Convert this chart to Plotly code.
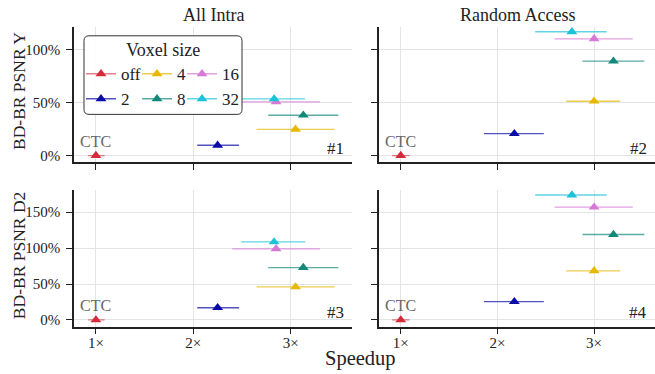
import plotly.graph_objects as go

# ---------------- data ----------------
voxel_sizes = ["off", "2", "4", "8", "16", "32"]
legend_ids = ["legend", "legend", "legend2", "legend2", "legend3", "legend3"]
colors = ["#d42a3a", "#0a0aa6", "#e6b800", "#13897a", "#d678d6", "#1cc3d8"]
bar_colors = ["rgba(212,42,58,0.6)", "rgba(10,10,166,0.7)", "rgba(230,184,0,0.7)",
              "rgba(19,137,122,0.7)", "rgba(214,120,214,0.7)", "rgba(28,195,216,0.7)"]

# All Intra speedup (mean, low, high)
ai_speed = [1.0, 2.25, 3.05, 3.13, 2.85, 2.83]
ai_speed_lo = [0.92, 2.04, 2.65, 2.77, 2.40, 2.49]
ai_speed_hi = [1.09, 2.47, 3.45, 3.49, 3.30, 3.15]
# Random Access speedup (mean, low, high)
ra_speed = [1.0, 2.175, 3.0, 3.2, 3.0, 2.77]
ra_speed_lo = [0.91, 1.86, 2.71, 2.88, 2.59, 2.39]
ra_speed_hi = [1.09, 2.48, 3.27, 3.52, 3.40, 3.13]

# BD-BR values (%)
ai_bdbr_y = [0, 9.7, 24.7, 38.0, 50.6, 53.4]
ra_bdbr_y = [0, 20.6, 51.2, 89.0, 110.0, 116.7]
ai_bdbr_d2 = [0, 17.0, 46.0, 73.0, 99.0, 108.6]
ra_bdbr_d2 = [0, 25.5, 68.4, 119.0, 157.0, 174.0]

col_titles = ["All Intra", "Random Access"]
row_titles = ["BD-BR PSNR Y", "BD-BR PSNR D2"]
panel_labels = ["#1", "#2", "#3", "#4"]
legend_title = "Voxel size"
x_tickvals = [1, 2, 3]
x_ticktext = ["1×", "2×", "3×"]
y_ticks_top = [0, 50, 100]
y_ticktext_top = ["0%", "50%", "100%"]
y_ticks_bottom = [0, 50, 100, 150]
y_ticktext_bottom = ["0%", "50%", "100%", "150%"]

# ---------------- figure ----------------
W, H = 655, 374
FONT = "Liberation Serif"
fig = go.Figure()

panels = [
    ("x", "y", ai_speed, ai_speed_lo, ai_speed_hi, ai_bdbr_y),
    ("x2", "y2", ra_speed, ra_speed_lo, ra_speed_hi, ra_bdbr_y),
    ("x3", "y3", ai_speed, ai_speed_lo, ai_speed_hi, ai_bdbr_d2),
    ("x4", "y4", ra_speed, ra_speed_lo, ra_speed_hi, ra_bdbr_d2),
]

for p, (xa, ya, sp, lo, hi, bd) in enumerate(panels):
    for i, v in enumerate(voxel_sizes):
        fig.add_trace(go.Scatter(
            x=[sp[i]], y=[bd[i]],
            xaxis=xa, yaxis=ya,
            mode="lines+markers",
            name=v,
            legendgroup=v,
            legend=legend_ids[i],
            showlegend=(p == 0),
            line=dict(color=bar_colors[i], width=1.5),
            marker=dict(symbol="triangle-up", size=9.5, color=colors[i], line=dict(width=0)),
            error_x=dict(type="data", symmetric=False,
                         array=[hi[i] - sp[i]], arrayminus=[sp[i] - lo[i]],
                         color=bar_colors[i], thickness=1.3, width=0),
            hoverinfo="skip",
        ))

def px_x(a, b):
    return [a / W, b / W]

def px_y(top, bottom):
    return [1 - bottom / H, 1 - top / H]

xdom_l = px_x(74, 352)
xdom_r = px_x(379, 655)
ydom_t = px_y(26.7, 163.3)
ydom_b = px_y(191, 328.3)

axis_common = dict(showline=True, linecolor="#222", linewidth=1.5, mirror=False,
                   ticks="outside", ticklen=6, tickwidth=1.3, tickcolor="#222",
                   showgrid=True, gridcolor="#e4e4e4", gridwidth=1, zeroline=False,
                   tickfont=dict(family=FONT, size=15, color="#222"))
x_common = dict(tickvals=x_tickvals, ticktext=x_ticktext, ticklabelstandoff=-4, **axis_common)
y_common = dict(ticklabelstandoff=3, **axis_common)

xr = [0.775, 3.63]
fig.update_layout(
    xaxis=dict(domain=xdom_l, anchor="y", range=xr, showticklabels=False, **x_common),
    xaxis2=dict(domain=xdom_r, anchor="y2", range=xr, showticklabels=False, **x_common),
    xaxis3=dict(domain=xdom_l, anchor="y3", range=xr, **x_common),
    xaxis4=dict(domain=xdom_r, anchor="y4", range=xr, **x_common),
    yaxis=dict(domain=ydom_t, anchor="x", range=[-6.5, 121.6], tickvals=y_ticks_top,
               ticktext=y_ticktext_top, **y_common),
    yaxis2=dict(domain=ydom_t, anchor="x2", range=[-6.5, 121.6], tickvals=y_ticks_top,
                showticklabels=False, **y_common),
    yaxis3=dict(domain=ydom_b, anchor="x3", range=[-9.2, 181], tickvals=y_ticks_bottom,
                ticktext=y_ticktext_bottom, **y_common),
    yaxis4=dict(domain=ydom_b, anchor="x4", range=[-9.2, 181], tickvals=y_ticks_bottom,
                showticklabels=False, **y_common),
)

ann = []
for j, t in enumerate(col_titles):
    dom = xdom_l if j == 0 else xdom_r
    ann.append(dict(text=t, xref="paper", yref="paper", x=(dom[0] + dom[1]) / 2,
                    y=1 - 15.5 / H, xanchor="center", yanchor="middle", showarrow=False,
                    font=dict(family=FONT, size=18, color="#222")))
for r, t in enumerate(row_titles):
    yc = 92 if r == 0 else 257
    ann.append(dict(text=t, xref="paper", yref="paper", x=18.5 / W,
                    y=1 - yc / H, xanchor="center", yanchor="middle",
                    textangle=-90, showarrow=False,
                    font=dict(family=FONT, size=17.5, color="#222")))
ann.append(dict(text="Speedup", xref="paper", yref="paper", x=360 / W, y=1 - 360 / H,
                xanchor="center", yanchor="middle", showarrow=False,
                font=dict(family=FONT, size=20.5, color="#222")))
for p, (xa, ya, sp, lo, hi, bd) in enumerate(panels):
    ann.append(dict(text="CTC", xref=xa, yref=ya, x=sp[0], y=bd[0], xanchor="center",
                    yanchor="bottom", yshift=4, showarrow=False,
                    font=dict(family=FONT, size=16, color="#666")))
    ann.append(dict(text=panel_labels[p], xref=f"{xa} domain", yref=f"{ya} domain",
                    x=0.98, y=0.015, xanchor="right", yanchor="bottom", showarrow=False,
                    font=dict(family=FONT, size=17, color="#222")))

# legend box (rounded) and title
bx0, by0, bx1, by1, rad = 84, 36, 242, 115, 5
def P(x, y):
    return f"{x / W:.5f},{1 - y / H:.5f}"
box_path = (f"M {P(bx0 + rad, by0)} L {P(bx1 - rad, by0)} Q {P(bx1, by0)} {P(bx1, by0 + rad)} "
            f"L {P(bx1, by1 - rad)} Q {P(bx1, by1)} {P(bx1 - rad, by1)} "
            f"L {P(bx0 + rad, by1)} Q {P(bx0, by1)} {P(bx0, by1 - rad)} "
            f"L {P(bx0, by0 + rad)} Q {P(bx0, by0)} {P(bx0 + rad, by0)} Z")
fig.add_shape(type="path", path=box_path, xref="paper", yref="paper", layer="above",
              line=dict(color="#333", width=1), fillcolor="rgba(255,255,255,0.92)")
ann.append(dict(text=legend_title, xref="paper", yref="paper", x=(bx0 + bx1) / 2 / W,
                y=1 - 50 / H, xanchor="center", yanchor="middle", showarrow=False,
                font=dict(family=FONT, size=18, color="#222")))

leg_common = dict(orientation="v", yanchor="top", xanchor="left", y=1 - 56.5 / H,
                  bgcolor="rgba(0,0,0,0)", borderwidth=0, tracegroupgap=0,
                  font=dict(family=FONT, size=17, color="#222"), itemwidth=30)
fig.update_layout(
    width=W, height=H,
    margin=dict(l=0, r=0, t=0, b=0),
    paper_bgcolor="white", plot_bgcolor="white",
    annotations=ann,
    font=dict(family=FONT, color="#222"),
    legend=dict(x=81 / W, **leg_common),
    legend2=dict(x=137 / W, **leg_common),
    legend3=dict(x=182 / W, **leg_common),
)

fig.write_html("out.html", config={"displayModeBar": False},
               post_script="document.body.style.margin='0px';")
